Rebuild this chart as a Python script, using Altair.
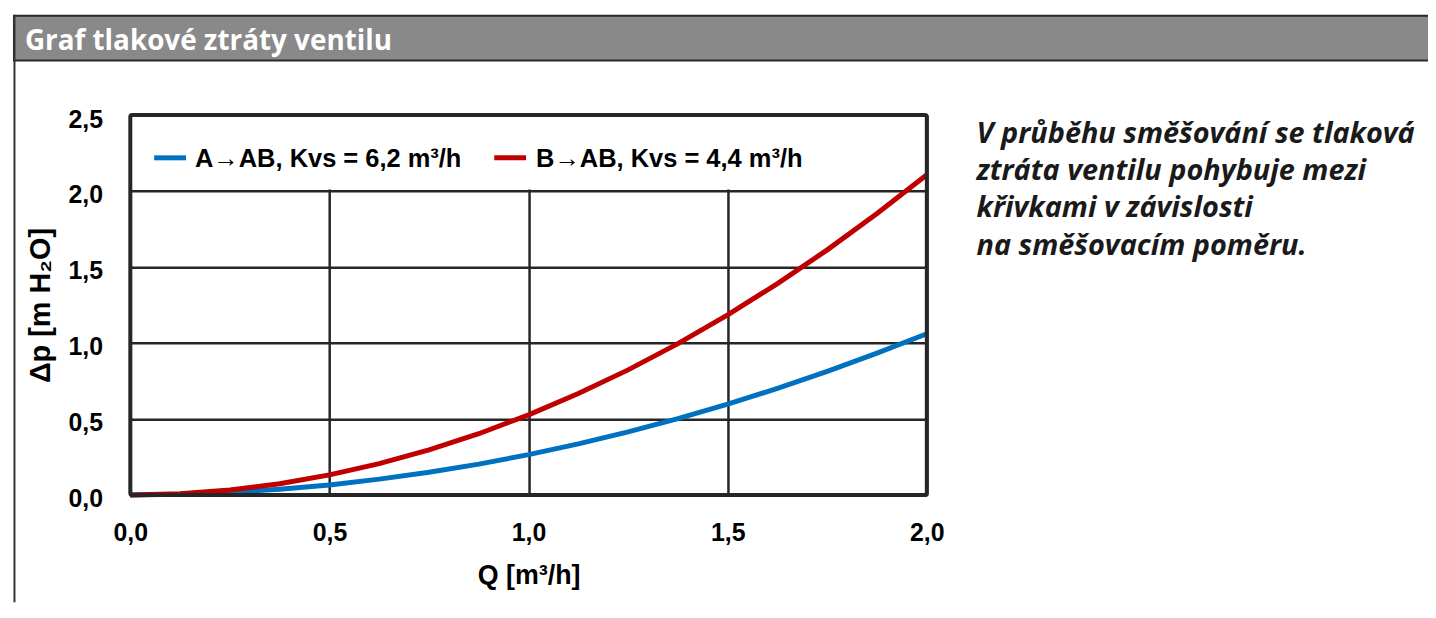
import altair as alt
import pandas as pd

# ---------------- data ----------------
q_values = [0.0, 0.125, 0.25, 0.375, 0.5, 0.625, 0.75, 0.875, 1.0,
            1.125, 1.25, 1.375, 1.5, 1.625, 1.75, 1.875, 2.0]
dp_a_ab = [0.0, 0.004, 0.017, 0.037, 0.066, 0.104, 0.149, 0.203, 0.265,
           0.336, 0.415, 0.502, 0.597, 0.701, 0.813, 0.933, 1.061]
dp_b_ab = [0.0, 0.008, 0.033, 0.074, 0.132, 0.206, 0.296, 0.403, 0.527,
           0.667, 0.823, 0.996, 1.185, 1.391, 1.613, 1.852, 2.107]

x_ticks = [0.0, 0.5, 1.0, 1.5, 2.0]
y_ticks = [0.0, 0.5, 1.0, 1.5, 2.0, 2.5]

series_names = ["A→AB, Kvs = 6,2 m³/h", "B→AB, Kvs = 4,4 m³/h"]
series_colors = ["#0070c0", "#c00000"]

header_title = "Graf tlakové ztráty ventilu"
x_title = "Q [m³/h]"
y_title = "Δp [m H₂O]"
note_lines = ["V průběhu směšování se tlaková",
              "ztráta ventilu pohybuje mezi",
              "křivkami v závislosti",
              "na směšovacím poměru."]

# ---------------- layout ----------------
W, H = 801, 382
PAD_L, PAD_T = 123, 106
PAD_R, PAD_B = 504, 108
DARK = "#262626"
AX_FONT = "Liberation Sans"
TXT_FONT = "Open Sans"

xs = alt.Scale(domain=[0, 2], nice=False, zero=True)
ys = alt.Scale(domain=[0, 2.5], nice=False, zero=True)
lab_expr = "replace(format(datum.value, '.1f'), '.', ',')"

x_axis = alt.Axis(values=x_ticks, labelExpr=lab_expr, title=x_title,
                  grid=True, gridColor=DARK, gridWidth=2.5,
                  ticks=False, tickSize=0, domain=False, labelFlush=False,
                  labelFont=AX_FONT, labelFontSize=25, labelFontWeight="bold",
                  labelColor="black", labelBaseline="alphabetic", labelPadding=46,
                  titleFont=AX_FONT, titleFontSize=27, titleFontWeight="bold",
                  titleColor="black", titleBaseline="alphabetic", titleY=89)
y_axis = alt.Axis(values=y_ticks, labelExpr=lab_expr, title=y_title,
                  grid=True, gridColor=DARK, gridWidth=2.5,
                  ticks=False, tickSize=0, domain=False, labelFlush=False,
                  labelFont=AX_FONT, labelFontSize=25, labelFontWeight="bold",
                  labelColor="black", labelBaseline="alphabetic", labelOffset=12,
                  labelPadding=28, labelAlign="right",
                  titleFont=AX_FONT, titleFontSize=29, titleFontWeight="bold",
                  titleColor="black", titleBaseline="alphabetic", titleAngle=270,
                  titleX=-81, titleY=H / 2)

df = pd.DataFrame({"Q": q_values, "A": dp_a_ab, "B": dp_b_ab})
one = pd.DataFrame({"k": [0]})

# legend background box (covers the vertical grid in the upper band)
legend_box = alt.Chart(pd.DataFrame({"x": [0.0], "x2": [1.878], "y": [2.01], "y2": [2.5]})).mark_rect(
    fill="white"
).encode(
    x=alt.X("x:Q", scale=xs, axis=x_axis),
    x2="x2:Q",
    y=alt.Y("y:Q", scale=ys, axis=y_axis),
    y2="y2:Q",
)

line_a = alt.Chart(df).mark_line(color=series_colors[0], strokeWidth=5, strokeCap="butt").encode(
    x=alt.X("Q:Q", scale=xs, axis=x_axis), y=alt.Y("A:Q", scale=ys, axis=y_axis))
line_b = alt.Chart(df).mark_line(color=series_colors[1], strokeWidth=5, strokeCap="butt").encode(
    x=alt.X("Q:Q", scale=xs, axis=x_axis), y=alt.Y("B:Q", scale=ys, axis=y_axis))

frame = alt.Chart(one).mark_rect(fill="transparent", stroke=DARK, strokeWidth=4,
                                 strokeJoin="round", cornerRadius=2).encode(
    x=alt.value(0), x2=alt.value(W), y=alt.value(0), y2=alt.value(H))

# legend entries
leg_a_line = alt.Chart(one).mark_rule(color=series_colors[0], strokeWidth=5).encode(
    x=alt.value(24), x2=alt.value(56), y=alt.value(43))
leg_b_line = alt.Chart(one).mark_rule(color=series_colors[1], strokeWidth=5).encode(
    x=alt.value(366), x2=alt.value(398), y=alt.value(43))
leg_a_txt = alt.Chart(one).mark_text(text=series_names[0], font=AX_FONT, fontSize=25.6,
                                     fontWeight="bold", align="left", baseline="alphabetic",
                                     color="black").encode(x=alt.value(65), y=alt.value(52))
leg_b_txt = alt.Chart(one).mark_text(text=series_names[1], font=AX_FONT, fontSize=25.6,
                                     fontWeight="bold", align="left", baseline="alphabetic",
                                     color="black").encode(x=alt.value(408), y=alt.value(52))

# header bar and frame of the panel
header = alt.Chart(one).mark_rect(fill="#898989", stroke="#2a2a2a", strokeWidth=2).encode(
    x=alt.value(-117), x2=alt.value(W + PAD_R + 2), y=alt.value(-100), y2=alt.value(-55))
left_border = alt.Chart(one).mark_rule(color="#333333", strokeWidth=2).encode(
    x=alt.value(-116.5), y=alt.value(-101), y2=alt.value(H + PAD_B))
header_txt = alt.Chart(one).mark_text(text=header_title, font=TXT_FONT, fontSize=28,
                                      fontWeight="bold", align="left", baseline="alphabetic",
                                      color="white").encode(x=alt.value(-106), y=alt.value(-65))

note = alt.Chart(one).mark_text(text=note_lines, font=TXT_FONT, fontSize=29, fontWeight="bold",
                                fontStyle="italic", align="left", baseline="alphabetic",
                                lineHeight=37.5, color="#1a1a1a").encode(
    x=alt.value(851), y=alt.value(28))

chart = alt.layer(
    legend_box, line_a, line_b, frame,
    leg_a_line, leg_b_line, leg_a_txt, leg_b_txt,
    header, left_border, header_txt, note,
).properties(
    width=W, height=H,
    autosize=alt.AutoSizeParams(type="none"),
    padding={"left": PAD_L, "top": PAD_T, "right": PAD_R, "bottom": PAD_B},
    background="white",
).configure_view(strokeWidth=0)

chart.save("out.html", embed_options={"renderer": "svg", "actions": False})
